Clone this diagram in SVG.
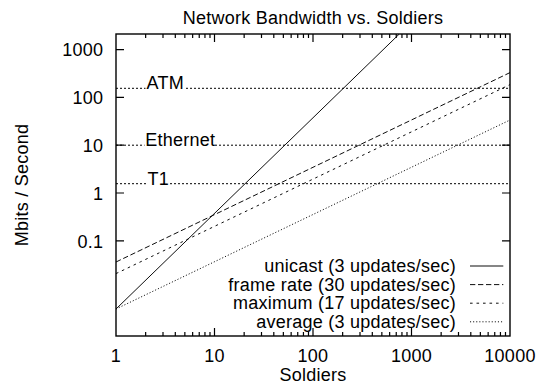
<svg xmlns="http://www.w3.org/2000/svg" width="543" height="384" viewBox="0 0 543 384">
  <style>
    text { font-family: "Liberation Sans", Arial, Helvetica, sans-serif; font-size: 18px; letter-spacing: 0.25px; fill: #000; }
    .frame { fill: none; stroke: #000; stroke-width: 1.4; }
    .tick { fill: none; stroke: #000; stroke-width: 1.2; }
    .curve { fill: none; stroke: #000; stroke-width: 0.95; }
    .lt0 { }
    .lt1 { stroke-dasharray: 5.3 2.7; }
    .lt2 { stroke-dasharray: 2.6 3.9; }
    .lt3 { stroke-dasharray: 1.1 2; }
    .limit { fill: none; stroke: #000; stroke-width: 1; stroke-dasharray: 2 2; }
    .ylab { text-anchor: end; }
    .xlab { text-anchor: middle; }
    .key { text-anchor: end; }
  </style>
  <defs>
    <clipPath id="plotArea">
      <rect x="116" y="34" width="394" height="302"/>
    </clipPath>
  </defs>

  <rect width="543" height="384" fill="#fff"/>

  <text id="title" x="313" y="24" text-anchor="middle">Network Bandwidth vs. Soldiers</text>

  <!-- axis labels -->
  <text id="ylabel" transform="translate(27.5,185) rotate(-90)" text-anchor="middle">Mbits / Second</text>
  <text id="xlabel" x="313" y="381" text-anchor="middle">Soldiers</text>

  <!-- tick marks: y majors only, x majors and log minors, mirrored -->
  <g id="ticks">
    <path class="tick" d="M116 49.6h8M116 97.4h8M116 145.2h8M116 193h8M116 240.8h8
      M510 49.6h-8M510 97.4h-8M510 145.2h-8M510 193h-8M510 240.8h-8
      M214.5 336v-8M313 336v-8M411.5 336v-8
      M214.5 34v8M313 34v8M411.5 34v8"/>
    <path class="tick" d="M145.65 336v-4M163 336v-4M175.3 336v-4M184.85 336v-4M192.65 336v-4M199.24 336v-4M204.95 336v-4M209.99 336v-4
      M244.15 336v-4M261.5 336v-4M273.8 336v-4M283.35 336v-4M291.15 336v-4M297.74 336v-4M303.45 336v-4M308.49 336v-4
      M342.65 336v-4M360 336v-4M372.3 336v-4M381.85 336v-4M389.65 336v-4M396.24 336v-4M401.95 336v-4M406.99 336v-4
      M441.15 336v-4M458.5 336v-4M470.8 336v-4M480.35 336v-4M488.15 336v-4M494.74 336v-4M500.45 336v-4M505.49 336v-4
      M145.65 34v4M163 34v4M175.3 34v4M184.85 34v4M192.65 34v4M199.24 34v4M204.95 34v4M209.99 34v4
      M244.15 34v4M261.5 34v4M273.8 34v4M283.35 34v4M291.15 34v4M297.74 34v4M303.45 34v4M308.49 34v4
      M342.65 34v4M360 34v4M372.3 34v4M381.85 34v4M389.65 34v4M396.24 34v4M401.95 34v4M406.99 34v4
      M441.15 34v4M458.5 34v4M470.8 34v4M480.35 34v4M488.15 34v4M494.74 34v4M500.45 34v4M505.49 34v4"/>
  </g>

  <!-- tick labels -->
  <g id="yticklabels">
    <text class="ylab" x="103.3" y="56.3">1000</text>
    <text class="ylab" x="103.3" y="104.1">100</text>
    <text class="ylab" x="103.3" y="151.9">10</text>
    <text class="ylab" x="103.3" y="199.7">1</text>
    <text class="ylab" x="103.3" y="247.5">0.1</text>
  </g>
  <g id="xticklabels">
    <text class="xlab" x="116" y="362">1</text>
    <text class="xlab" x="214.5" y="362">10</text>
    <text class="xlab" x="313" y="362">100</text>
    <text class="xlab" x="411.5" y="362">1000</text>
    <text class="xlab" x="510" y="362">10000</text>
  </g>

  <!-- link capacity reference lines, broken where their labels sit -->
  <g id="limits">
    <path class="limit" d="M116 88.3H145.5M186 88.3H510"/>
    <path class="limit" d="M116 145.2H144.5M215 145.2H510"/>
    <path class="limit" d="M116 183.7H146.5M170 183.7H510"/>
    <text id="atm" x="146.5" y="88.6">ATM</text>
    <text id="ethernet" x="145.3" y="145.6">Ethernet</text>
    <text id="t1" x="147.6" y="184.6">T1</text>
  </g>

  <!-- bandwidth curves -->
  <g id="curves" clip-path="url(#plotArea)">
    <path id="unicast" class="curve lt0" d="M116 309L399.3 34"/>
    <path id="framerate" class="curve lt1" d="M116 262L510 72.6"/>
    <path id="maximum" class="curve lt2" d="M116 273.6L510 84.6"/>
    <path id="average" class="curve lt3" d="M116 309L510 120"/>
  </g>

  <!-- key -->
  <g id="legend">
    <text class="key" x="456" y="272">unicast (3 updates/sec)</text>
    <text class="key" x="456" y="290.6">frame rate (30 updates/sec)</text>
    <text class="key" x="456" y="309.2">maximum (17 updates/sec)</text>
    <text class="key" x="456" y="327.8">average (3 updates/sec)</text>
    <path class="curve lt0" d="M470 266H503.3"/>
    <path class="curve lt1" d="M470 284.6H503.3"/>
    <path class="curve lt2" d="M470 303.2H503.3"/>
    <path class="curve lt3" d="M470 321.8H503.3"/>
  </g>

  <rect id="border" class="frame" x="116" y="34" width="394" height="302"/>
</svg>
